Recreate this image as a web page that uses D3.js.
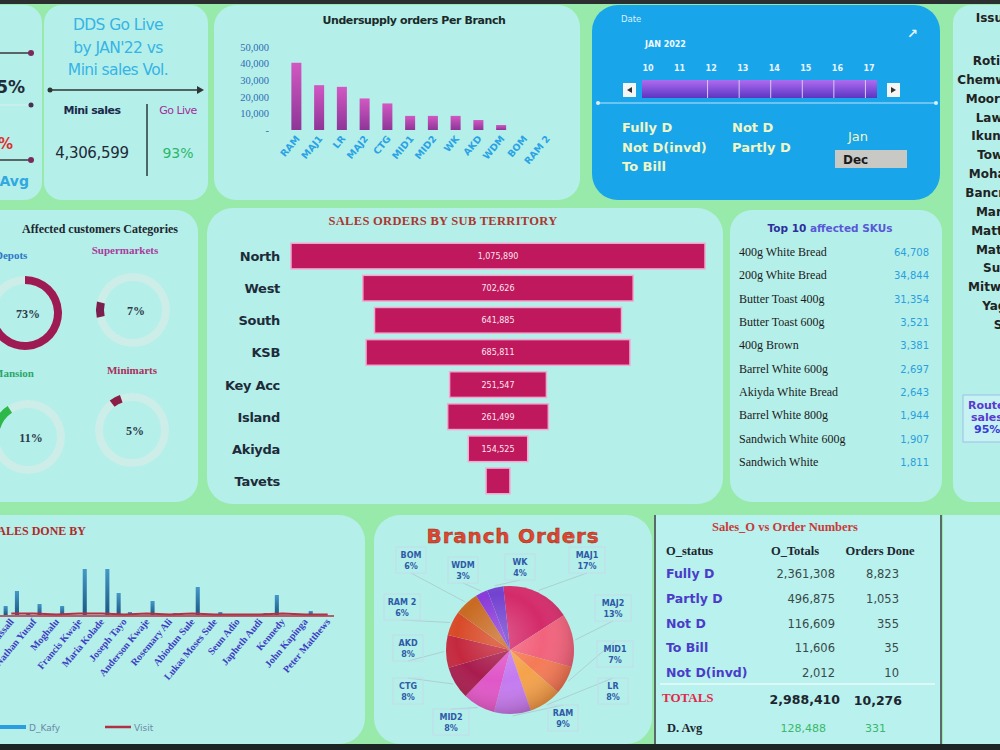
<!DOCTYPE html>
<html>
<head>
<meta charset="utf-8">
<script src="https://cdn.jsdelivr.net/npm/d3@7"></script>
<style>
body { margin: 0; background: #98eaab; overflow: hidden; }
svg { display: block; }
</style>
</head>
<body>
<div id="chart"></div>
<script>
// ---- data ----
var kpiLabels = ["Mini sales", "Go Live"];
var kpiValues = [4306599, 0.93];

var branches = ["RAM","MAJ1","LR","MAJ2","CTG","MID1","MID2","WK","AKD","WDM","BOM","RAM 2"];
var undersupply = [40500,27000,26000,19000,16000,8500,8500,8500,6000,3000,0,0];
var undersupplyTicks = [0,10000,20000,30000,40000,50000];

var sliderDays = ["10","11","12","13","14","15","16","17"];
var statusLeft = ["Fully D","Not D(invd)","To Bill"];
var statusRight = ["Not D","Partly D"];
var months = ["Jan","Dec"];

var custCategories = ["Depots","Supermarkets","Mansion","Minimarts"];
var custShare = [73,7,11,5];
var custStartDeg = [0,258,287,323];

var territories = ["North","West","South","KSB","Key Acc","Island","Akiyda","Tavets"];
var territorySales = [1075890,702626,641885,685811,251547,261499,154525,62000];

var skus = ["400g White Bread","200g White Bread","Butter Toast 400g","Butter Toast 600g","400g Brown",
  "Barrel White 600g","Akiyda White Bread","Barrel White 800g","Sandwich White 600g","Sandwich White"];
var skuQty = [64708,34844,31354,3521,3381,2697,2643,1944,1907,1811];

var reps = ["Ojo Kassall","Nathan Yusuf","Moghalu","Francis Kwaje","Maria Kolade","Joseph Tayo",
  "Anderson Kwaje","Rosemary Ali","Abiodun Sule","Lukas Moses Sule","Seun Adio","Japheth Audi",
  "Kennedy","John Kapinga","Peter Matthews"];
var repSeries = ["O_Kafy","D_Kafy","Visit"];
var repOrders = [9,2,0,0,0,22,0,0,0,0,0,0,20,0,0];
var repKafy = [24,11,9,46,46,3,14,2,28,3,0,2,0,4,0];
var repVisits = [1,1,0,1,1,0,1,0,1,0,0,0,1,0,0];

var pieBranches = ["MAJ1","MAJ2","MID1","LR","RAM","MID2","CTG","AKD","RAM 2","BOM","WDM","WK"];
var pieShare = [17,13,7,8,9,8,8,8,6,6,3,4];

var orderStatus = ["Fully D","Partly D","Not D","To Bill","Not D(invd)"];
var orderTotals = [2361308,496875,116609,11606,2012];
var ordersDone = [8823,1053,355,35,10];
var dailyAvg = [128488,331];

var sideHeader = "Issued by";
var sideNames = ["Rotimi Ola","Chemwai Kibet","Moore Adeyi","Lawrence","Ikunna Obi","Towolawi","Mohammed",
  "Bancroft Eze","Mariam A","Matthew O","Matilda K","Sunday","Mitwaki Ojo","Yagazie","Seyi"];

// ---- setup ----
var W = 1000, H = 750;
var fmt = d3.format(",");
var svg = d3.select("#chart").append("svg")
  .attr("width", W).attr("height", H)
  .style("font-family", "'DejaVu Sans', sans-serif");
var defs = svg.append("defs");

function vGrad(id, c1, c2) {
  var g = defs.append("linearGradient").attr("id", id)
    .attr("x1", 0).attr("y1", 0).attr("x2", 0).attr("y2", 1);
  g.append("stop").attr("offset", "0%").attr("stop-color", c1);
  g.append("stop").attr("offset", "100%").attr("stop-color", c2);
}
vGrad("usBar", "#d258c2", "#8e3598");
vGrad("slider", "#ae6cf0", "#5b35c2");
vGrad("repBar", "#4499c9", "#1c5783");

var shade = defs.append("radialGradient").attr("id", "pieShade")
  .attr("cx", "42%").attr("cy", "40%").attr("r", "62%");
shade.append("stop").attr("offset", "0%").attr("stop-color", "#fff").attr("stop-opacity", 0.22);
shade.append("stop").attr("offset", "55%").attr("stop-color", "#fff").attr("stop-opacity", 0);
shade.append("stop").attr("offset", "100%").attr("stop-color", "#300").attr("stop-opacity", 0.22);

defs.append("clipPath").attr("id", "sliderClip")
  .append("rect").attr("x", 638).attr("y", 55).attr("width", 240).attr("height", 50);

function text(g, x, y, s, size, color, opts) {
  opts = opts || {};
  return g.append("text").attr("x", x).attr("y", y).text(s)
    .attr("font-size", size).attr("fill", color)
    .attr("font-weight", opts.weight || "normal")
    .attr("text-anchor", opts.anchor || "start")
    .attr("font-family", opts.family || null);
}
function panel(x, y, w, h, r, fill) {
  return svg.append("rect").attr("x", x).attr("y", y).attr("width", w).attr("height", h)
    .attr("rx", r).attr("fill", fill || "#b5efe9");
}
var serif = "'Liberation Serif', serif";

// background
svg.append("rect").attr("width", W).attr("height", H).attr("fill", "#98eaab");

// panels
panel(-30, 5, 72, 195, 18);
panel(44, 5, 164, 195, 18);
panel(214, 5, 366, 195, 22);
panel(592, 5, 348, 195, 26, "#18a5ea");
panel(953, 5, 80, 497, 18);
panel(-30, 210, 228, 292, 22);
panel(207, 208, 516, 296, 26);
panel(730, 210, 212, 292, 22);
panel(-30, 515, 395, 229, 26);
panel(374, 515, 278, 229, 26);
panel(655, 515, 286, 229, 0, "#b8f1ed");
panel(943, 515, 70, 229, 0, "#b8f1ed");
svg.append("line").attr("x1", 655).attr("x2", 655).attr("y1", 515).attr("y2", 744)
  .attr("stroke", "#5a6a6a").attr("stroke-width", 2);
svg.append("line").attr("x1", 941).attr("x2", 941).attr("y1", 515).attr("y2", 744)
  .attr("stroke", "#5a6a6a").attr("stroke-width", 2);

svg.append("rect").attr("width", W).attr("height", 4).attr("fill", "#2b2f2f");
svg.append("rect").attr("y", 744).attr("width", W).attr("height", 6).attr("fill", "#1d2424");

// ---- far-left KPI strip ----
var kl = svg.append("g");
function arrowLine(g, x1, x2, y) {
  g.append("line").attr("x1", x1).attr("x2", x2).attr("y1", y).attr("y2", y)
    .attr("stroke", "#3a3a3a").attr("stroke-width", 1.5);
  g.append("circle").attr("cx", x2).attr("cy", y).attr("r", 3).attr("fill", "#7a2a5a");
}
arrowLine(kl, -5, 31, 53);
arrowLine(kl, -5, 31, 160);
kl.append("line").attr("x1", 0).attr("x2", 28).attr("y1", 105).attr("y2", 105)
  .attr("stroke", "#d8eef0").attr("stroke-width", 1);
kl.append("circle").attr("cx", 31).attr("cy", 105).attr("r", 2.5).attr("fill", "#4a3050");
text(kl, 25, 93, "95%", 17, "#1f2d3a", {weight: "bold", anchor: "end"});
text(kl, 13, 149, "4%", 15, "#e0302a", {weight: "bold", anchor: "end"});
text(kl, 29, 186, "D. Avg", 14, "#30a8e0", {weight: "bold", anchor: "end"});

// ---- DDS Go Live vs Mini sales ----
var dds = svg.append("g");
["DDS Go Live", "by JAN'22 vs", "Mini sales Vol."].forEach(function (s, i) {
  text(dds, 118, 30 + i * 22.5, s, 15.5, "#36b4e6", {anchor: "middle"}).attr("letter-spacing", -0.6);
});
dds.append("line").attr("x1", 50).attr("x2", 198).attr("y1", 90).attr("y2", 90)
  .attr("stroke", "#2e3535").attr("stroke-width", 1.5);
dds.append("circle").attr("cx", 50).attr("cy", 90).attr("r", 2.5).attr("fill", "#2e3535");
dds.append("path").attr("d", "M197,86 L204,90 L197,94 Z").attr("fill", "#2e3535");
text(dds, 92, 114, kpiLabels[0], 11, "#1a2a4a", {weight: "bold", anchor: "middle"}).attr("letter-spacing", -0.5);
text(dds, 178, 114, kpiLabels[1], 11, "#a0309a", {anchor: "middle"}).attr("letter-spacing", -0.5);
dds.append("line").attr("x1", 147).attr("x2", 147).attr("y1", 104).attr("y2", 176)
  .attr("stroke", "#2a3a3a").attr("stroke-width", 1.5);
text(dds, 92, 158, fmt(kpiValues[0]), 15, "#1e2a38", {anchor: "middle"}).attr("letter-spacing", -0.3);
text(dds, 178, 158, d3.format(".0%")(kpiValues[1]), 14, "#2ab86a", {anchor: "middle"});

// ---- Undersupply orders per branch ----
var us = svg.append("g");
text(us, 414, 24, "Undersupply orders Per Branch", 11, "#1a2a2a", {weight: "bold", anchor: "middle"})
  .attr("letter-spacing", -0.4);
var usX = d3.scaleBand().domain(branches).range([285, 558]).paddingInner(0.56).paddingOuter(0.28);
var usY = d3.scaleLinear().domain([0, 50000]).range([130, 47]);
var usAxis = us.append("g").attr("transform", "translate(272,0)")
  .call(d3.axisLeft(usY).tickValues(undersupplyTicks).tickSize(0)
    .tickFormat(function (d) { return d === 0 ? "-" : fmt(d); }));
usAxis.select(".domain").remove();
usAxis.selectAll("text").attr("fill", "#2d6db5").attr("font-size", 10.5)
  .attr("font-family", serif).attr("dx", 0);
us.selectAll("rect.bar").data(branches).join("rect").attr("class", "bar")
  .attr("x", function (d) { return usX(d); })
  .attr("width", usX.bandwidth())
  .attr("y", function (d, i) { return usY(undersupply[i]); })
  .attr("height", function (d, i) { return usY(0) - usY(undersupply[i]); })
  .attr("fill", "url(#usBar)");
us.selectAll("text.xl").data(branches).join("text").attr("class", "xl")
  .attr("transform", function (d) {
    return "translate(" + (usX(d) + usX.bandwidth() / 2 + 4) + ",139) rotate(-50)";
  })
  .attr("text-anchor", "end").attr("font-size", 9.5).attr("font-weight", "bold")
  .attr("fill", "#2aa3e6").text(function (d) { return d; });

// ---- Date slicer ----
var sl = svg.append("g");
text(sl, 621, 22, "Date", 8.5, "#d8f0ff", {});
text(sl, 907, 38, "\u2197", 13, "#e8f6ff", {weight: "bold"});
text(sl, 645, 47, "JAN 2022", 8, "#f0f8ff", {weight: "bold"});
var slX = d3.scalePoint().domain(sliderDays).range([645, 866]);
var slG = sl.append("g").attr("clip-path", "url(#sliderClip)");
slG.append("rect").attr("x", 642).attr("y", 80).attr("width", 235).attr("height", 18)
  .attr("fill", "url(#slider)");
slG.selectAll("line.sep").data(sliderDays.slice(1)).join("line").attr("class", "sep")
  .attr("x1", function (d) { return slX(d) + 31; }).attr("x2", function (d) { return slX(d) + 31; })
  .attr("y1", 80).attr("y2", 98).attr("stroke", "#d8c8f8").attr("stroke-width", 1);
slG.selectAll("text.day").data(sliderDays).join("text").attr("class", "day")
  .attr("x", function (d) { return slX(d) + 3; }).attr("y", 71)
  .attr("text-anchor", "middle").attr("font-size", 8).attr("font-weight", "bold")
  .attr("fill", "#eaf4ff").text(function (d) { return d; });
sl.append("rect").attr("x", 623).attr("y", 83).attr("width", 13).attr("height", 14).attr("fill", "#f4f6f6");
sl.append("path").attr("d", "M632,87 L627,90 L632,93 Z").attr("fill", "#333");
sl.append("rect").attr("x", 887).attr("y", 83).attr("width", 13).attr("height", 14).attr("fill", "#f4f6f6");
sl.append("path").attr("d", "M891,87 L896,90 L891,93 Z").attr("fill", "#333");
sl.append("line").attr("x1", 598).attr("x2", 936).attr("y1", 103).attr("y2", 103)
  .attr("stroke", "#bfe4fa").attr("stroke-width", 1.2);
sl.append("circle").attr("cx", 598).attr("cy", 103).attr("r", 2).attr("fill", "#d8f0ff");
sl.append("circle").attr("cx", 936).attr("cy", 103).attr("r", 2).attr("fill", "#d8f0ff");
statusLeft.forEach(function (s, i) {
  text(sl, 622, 132 + i * 19.5, s, 13, "#f0f6c6", {weight: "bold"});
});
statusRight.forEach(function (s, i) {
  text(sl, 732, 132 + i * 19.5, s, 13, "#f0f6c6", {weight: "bold"});
});
text(sl, 858, 141, months[0], 13, "#f0f6c6", {anchor: "middle"});
sl.append("rect").attr("x", 835).attr("y", 150).attr("width", 72).attr("height", 18).attr("fill", "#c8c8c4");
text(sl, 843, 164, months[1], 12, "#1a1a1a", {weight: "bold"});

// ---- right-edge slicer (cut off by the page edge) ----
var rs = svg.append("g");
text(rs, 1008, 22, sideHeader, 12, "#222", {weight: "bold", anchor: "middle"});
var rsY = d3.scalePoint().domain(d3.range(sideNames.length)).range([65, 329]);
rs.selectAll("text.nm").data(sideNames).join("text").attr("class", "nm")
  .attr("x", 1008).attr("y", function (d, i) { return rsY(i); })
  .attr("text-anchor", "middle").attr("font-size", 12).attr("font-weight", "bold")
  .attr("fill", "#1e2424").text(function (d) { return d; });
rs.append("rect").attr("x", 963).attr("y", 395).attr("width", 50).attr("height", 47)
  .attr("fill", "#c6f2f2").attr("stroke", "#9ac0ea");
["Route", "sales", "95%"].forEach(function (s, i) {
  text(rs, 968 + i * 3, 409 + i * 12, s, 11, i === 2 ? "#3a3ad8" : "#5a3ad0", {weight: "bold"});
});

// ---- Affected customers categories (donuts) ----
var ac = svg.append("g");
text(ac, 178, 233, "Affected customers Categories", 12, "#1d2630", {weight: "bold", anchor: "end", family: serif});
var donutPos = [[25, 313], [133, 310], [28, 437], [132, 430]];
var labelCol = ["#2a78c8", "#a83c9c", "#2aa86a", "#a8305a"];
var arcCol = ["#9e1a52", "#7a1e4e", "#2db84a", "#8a1e46"];
var labelPos = [[-5, 259, "start"], [125, 254, "middle"], [-7, 377, "start"], [132, 374, "middle"]];
var ring = d3.arc().innerRadius(29).outerRadius(37);
custCategories.forEach(function (c, i) {
  var g = ac.append("g").attr("transform", "translate(" + donutPos[i][0] + "," + donutPos[i][1] + ")");
  g.append("path").attr("d", ring({startAngle: 0, endAngle: 2 * Math.PI}))
    .attr("fill", "#f6ece8").attr("opacity", 0.35);
  var a0 = custStartDeg[i] * Math.PI / 180;
  g.append("path").attr("d", ring({startAngle: a0, endAngle: a0 + custShare[i] / 100 * 2 * Math.PI}))
    .attr("fill", arcCol[i]);
  text(g, 3, 5, custShare[i] + "%", 12, "#2a3a4a", {weight: "bold", anchor: "middle", family: serif});
  text(ac, labelPos[i][0], labelPos[i][1], c, 11, labelCol[i], {weight: "bold", anchor: labelPos[i][2], family: serif});
});

// ---- Sales orders by sub territory (funnel) ----
var fn = svg.append("g");
text(fn, 443, 225, "SALES ORDERS BY SUB TERRITORY", 12.5, "#ad3630", {weight: "bold", anchor: "middle", family: serif})
  .attr("letter-spacing", 0.3);
var fnY = d3.scaleBand().domain(territories).range([240, 497]).paddingInner(0.2).paddingOuter(0.1);
var fnW = d3.scaleLinear().domain([0, d3.max(territorySales)]).range([0, 414]);
var fnCx = 498;
fn.selectAll("rect.fb").data(territories).join("rect").attr("class", "fb")
  .attr("x", function (d, i) { return fnCx - fnW(territorySales[i]) / 2; })
  .attr("y", function (d) { return fnY(d); })
  .attr("width", function (d, i) { return fnW(territorySales[i]); })
  .attr("height", fnY.bandwidth())
  .attr("fill", "#c0185c").attr("stroke", "#f2a8d2").attr("stroke-width", 1.5);
fn.selectAll("text.fv").data(territories.filter(function (d, i) { return fnW(territorySales[i]) > 40; }))
  .join("text").attr("class", "fv")
  .attr("x", fnCx).attr("y", function (d) { return fnY(d) + fnY.bandwidth() / 2 + 3; })
  .attr("text-anchor", "middle").attr("font-size", 8).attr("fill", "#fbe6f0")
  .text(function (d) { return fmt(territorySales[territories.indexOf(d)]); });
fn.selectAll("text.fl").data(territories).join("text").attr("class", "fl")
  .attr("x", 280).attr("y", function (d) { return fnY(d) + fnY.bandwidth() / 2 + 5; })
  .attr("text-anchor", "end").attr("font-size", 13).attr("font-weight", 600)
  .attr("fill", "#1d2b3a").attr("letter-spacing", -0.3).text(function (d) { return d; });

// ---- Top 10 affected SKUs ----
var tk = svg.append("g");
var tt = tk.append("text").attr("x", 830).attr("y", 232).attr("text-anchor", "middle")
  .attr("font-size", 10.5).attr("font-weight", "bold");
tt.append("tspan").attr("fill", "#2e2e9e").text("Top 10 ");
tt.append("tspan").attr("fill", "#5858d8").text("affected SKUs");
var tkY = d3.scalePoint().domain(skus).range([256, 466]);
tk.selectAll("text.sn").data(skus).join("text").attr("class", "sn")
  .attr("x", 739).attr("y", function (d) { return tkY(d); })
  .attr("font-size", 12).attr("font-family", serif).attr("fill", "#1b1b1b")
  .text(function (d) { return d; });
tk.selectAll("text.sv").data(skus).join("text").attr("class", "sv")
  .attr("x", 929).attr("y", function (d) { return tkY(d); })
  .attr("text-anchor", "end").attr("font-size", 10).attr("fill", "#2a9fe0")
  .text(function (d, i) { return fmt(skuQty[i]); });

// ---- Sales done by (reps) ----
var rp = svg.append("g");
text(rp, 86, 535, "SALES DONE BY", 12, "#b02a2a", {weight: "bold", anchor: "end", family: serif});
var rpX = d3.scaleBand().domain(reps).range([0, 339]);
var rpX1 = d3.scaleBand().domain(repSeries.slice(0, 2)).range([0, rpX.bandwidth()])
  .paddingInner(0.64).paddingOuter(0.32);
var rpY = d3.scaleLinear().domain([0, 50]).range([615, 565]);
[repOrders, repKafy].forEach(function (vals, s) {
  rp.selectAll("rect.s" + s).data(reps).join("rect").attr("class", "s" + s)
    .attr("x", function (d) { return rpX(d) + rpX1(repSeries[s]); })
    .attr("width", rpX1.bandwidth())
    .attr("y", function (d, i) { return rpY(vals[i]); })
    .attr("height", function (d, i) { return rpY(0) - rpY(vals[i]); })
    .attr("fill", "url(#repBar)");
});
rp.append("path").datum(reps)
  .attr("d", d3.line()
    .x(function (d) { return rpX(d) + rpX.bandwidth() / 2; })
    .y(function (d, i) { return rpY(repVisits[i]) - 0.5; }))
  .attr("fill", "none").attr("stroke", "#b03044").attr("stroke-width", 2);
rp.append("line").attr("x1", 0).attr("x2", 334).attr("y1", 616).attr("y2", 616)
  .attr("stroke", "#b03044").attr("stroke-width", 1.5);
rp.selectAll("text.rl").data(reps).join("text").attr("class", "rl")
  .attr("transform", function (d) {
    return "translate(" + (rpX(d) + rpX.bandwidth() / 2 + 3) + ",622) rotate(-50)";
  })
  .attr("text-anchor", "end").attr("font-size", 10).attr("font-weight", "bold")
  .attr("font-family", serif).attr("fill", "#3d3dc4").text(function (d) { return d; });
var legX = d3.scalePoint().domain(repSeries).range([-105, 105]);
repSeries.forEach(function (s, i) {
  var x = legX(s);
  rp.append("line").attr("x1", x).attr("x2", x + 26).attr("y1", 727).attr("y2", 727)
    .attr("stroke", i < 2 ? "#2a9ee0" : "#b03044").attr("stroke-width", i < 2 ? 4 : 2.5);
  text(rp, x + 29, 731, s, 9, "#6a8aa8", {});
});

// ---- Branch orders pie ----
var pg = svg.append("g");
text(pg, 513, 543, "Branch Orders", 20, "#e0462e", {weight: "bold", anchor: "middle"})
  .attr("stroke", "#8a2a20").attr("stroke-width", 0.4).attr("letter-spacing", 0.8);
var pcx = 510, pcy = 650, pr = 64;
var pieCol = ["#d42a6a", "#f2627c", "#f57a55", "#f5a24a", "#c47af0", "#e056c8",
  "#a81c4e", "#c4283e", "#d84a28", "#c86a22", "#8a3ad8", "#7242d0"];
var pieGen = d3.pie().sort(null).value(function (d, i) { return pieShare[i]; })
  .startAngle(-6 * Math.PI / 180).endAngle(2 * Math.PI - 6 * Math.PI / 180);
var arcs = pieGen(pieBranches);
var pieArc = d3.arc().innerRadius(0).outerRadius(pr);
var outerArc = d3.arc().innerRadius(pr + 2).outerRadius(pr + 2);
var pieG = pg.append("g").attr("transform", "translate(" + pcx + "," + pcy + ")");
// label layout offsets from pie centre (manual, as placed on the sheet)
var pieLabelAt = {"MAJ1": [77, -90], "MAJ2": [103, -42], "MID1": [105, 4], "LR": [103, 41], "RAM": [53, 68],
  "MID2": [-59, 72], "CTG": [-102, 41], "AKD": [-102, -2], "RAM 2": [-108, -43], "BOM": [-99, -90],
  "WDM": [-47, -80], "WK": [10, -83]};
arcs.forEach(function (a) {
  var p = pieLabelAt[a.data], c = outerArc.centroid(a);
  pieG.append("line").attr("x1", p[0]).attr("y1", p[1] + (p[1] < 0 ? 13 : -13))
    .attr("x2", c[0]).attr("y2", c[1]).attr("stroke", "#a9c2cc").attr("stroke-width", 0.7);
});
pieG.selectAll("path.sl").data(arcs).join("path").attr("class", "sl")
  .attr("d", pieArc).attr("fill", function (d, i) { return pieCol[i]; });
pieG.append("circle").attr("r", pr).attr("fill", "url(#pieShade)");
arcs.forEach(function (a, i) {
  var p = pieLabelAt[a.data];
  var w = a.data.length > 3 ? 36 : 30;
  pieG.append("rect").attr("x", p[0] - w / 2).attr("y", p[1] - 13).attr("width", w).attr("height", 26)
    .attr("fill", "none").attr("stroke", "#c4dcea").attr("stroke-width", 1);
  text(pieG, p[0], p[1] - 2, a.data, 8, "#2f5aa8", {weight: "bold", anchor: "middle"});
  text(pieG, p[0], p[1] + 9, pieShare[i] + "%", 8, "#2f5aa8", {weight: "bold", anchor: "middle"});
});

// ---- Sales_O vs Order Numbers table ----
var tb = svg.append("g");
text(tb, 785, 531, "Sales_O vs Order Numbers", 12.5, "#c83a3a", {weight: "bold", anchor: "middle", family: serif});
text(tb, 666, 555, "O_status", 12.5, "#1d2630", {weight: "bold", family: serif});
text(tb, 795, 555, "O_Totals", 12.5, "#1d2630", {weight: "bold", anchor: "middle", family: serif});
text(tb, 880, 555, "Orders Done", 12.5, "#1d2630", {weight: "bold", anchor: "middle", family: serif});
var tbY = d3.scalePoint().domain(orderStatus).range([578, 677]);
tb.selectAll("text.st").data(orderStatus).join("text").attr("class", "st")
  .attr("x", 666).attr("y", function (d) { return tbY(d); })
  .attr("font-size", 12.5).attr("font-weight", "bold").attr("fill", "#4a3cc8")
  .text(function (d) { return d; });
tb.selectAll("text.ot").data(orderStatus).join("text").attr("class", "ot")
  .attr("x", 835).attr("y", function (d) { return tbY(d); })
  .attr("text-anchor", "end").attr("font-size", 11.5).attr("fill", "#3a4a4a")
  .text(function (d, i) { return fmt(orderTotals[i]); });
tb.selectAll("text.od").data(orderStatus).join("text").attr("class", "od")
  .attr("x", 899).attr("y", function (d) { return tbY(d); })
  .attr("text-anchor", "end").attr("font-size", 11.5).attr("fill", "#3a4a4a")
  .text(function (d, i) { return fmt(ordersDone[i]); });
tb.append("line").attr("x1", 660).attr("x2", 935).attr("y1", 684).attr("y2", 684)
  .attr("stroke", "#e8fafa").attr("stroke-width", 1.5);
text(tb, 662, 702, "TOTALS", 13, "#e02a4a", {weight: "bold", family: serif});
text(tb, 840, 704, fmt(d3.sum(orderTotals)), 12.5, "#1d2630", {weight: "bold", anchor: "end"});
text(tb, 902, 705, fmt(d3.sum(ordersDone)), 12.5, "#1d2630", {weight: "bold", anchor: "end"});
text(tb, 667, 732, "D. Avg", 12.5, "#1d2630", {family: serif, weight: "bold"});
text(tb, 826, 732, fmt(dailyAvg[0]), 11, "#3ab86a", {anchor: "end"});
text(tb, 886, 732, fmt(dailyAvg[1]), 11, "#3ab86a", {anchor: "end"});
</script>
</body>
</html>
